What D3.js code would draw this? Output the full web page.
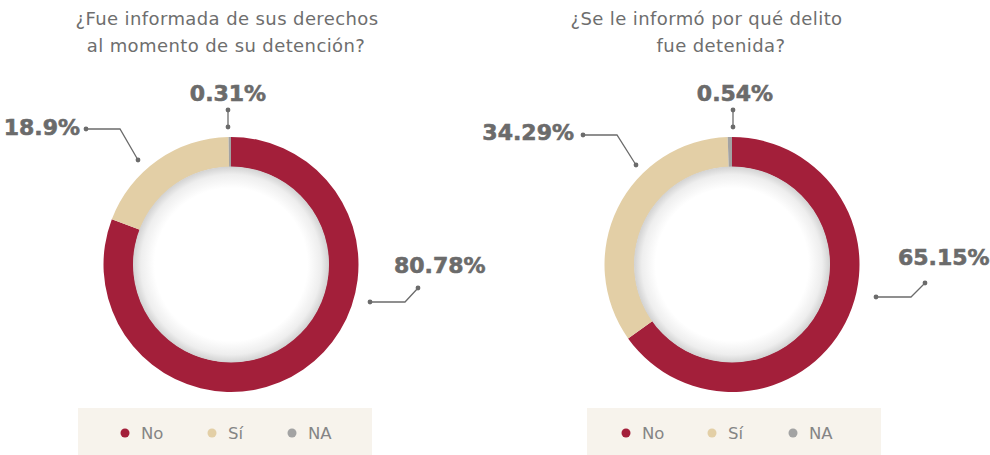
<!DOCTYPE html>
<html>
<head>
<meta charset="utf-8">
<script src="https://cdn.jsdelivr.net/npm/d3@7"></script>
<style>
  html, body { margin: 0; padding: 0; background: #ffffff; }
  svg { display: block; }
</style>
</head>
<body>
<svg id="chart" width="990" height="455"></svg>
<script>
// ---------- data ----------
const categories = ["No", "Sí", "NA"];
const colors = ["#a31f3a", "#e3cfa6", "#a3a3a3"];
const titleLeft = ["¿Fue informada de sus derechos", "al momento de su detención?"];
const titleRight = ["¿Se le informó por qué delito", "fue detenida?"];
const valuesLeft = [80.78, 18.9, 0.31];
const valuesRight = [65.15, 34.29, 0.54];
const labelsLeft = ["80.78%", "18.9%", "0.31%"];
const labelsRight = ["65.15%", "34.29%", "0.54%"];

// ---------- layout ----------
const svg = d3.select("#chart");
const outerR = 127.5, innerR = 97.5;
const textGrey = "#6b6b6b";

const defs = svg.append("defs");
const grad = defs.append("radialGradient").attr("id", "innerShade")
  .attr("cx", "50%").attr("cy", "50%").attr("r", "50%");
grad.append("stop").attr("offset", "0%").attr("stop-color", "#ffffff");
grad.append("stop").attr("offset", "78%").attr("stop-color", "#ffffff");
grad.append("stop").attr("offset", "92%").attr("stop-color", "#eeeeee");
grad.append("stop").attr("offset", "100%").attr("stop-color", "#d2d2d2");

const charts = [
  {
    cx: 231, cy: 264.5, values: valuesLeft, labels: labelsLeft, title: titleLeft,
    titleX: [227, 226],
    legendBox: [78, 408, 294],
    legendX: [125, 212, 292],
    // leader polylines & label anchors, relative to the donut centre
    leaders: [
      { pts: [[139, 37.5], [174, 37.5], [187, 23.5]], tx: 163, ty: 8.5, anchor: "start" },
      { pts: [[-145, -135.5], [-111, -135.5], [-93, -104.5]], tx: -151, ty: -129.5, anchor: "end" },
      { pts: [[-3, -154.5], [-3, -137.5]], tx: -3, ty: -163.5, anchor: "middle" }
    ]
  },
  {
    cx: 732, cy: 264.5, values: valuesRight, labels: labelsRight, title: titleRight,
    titleX: [706.5, 721],
    legendBox: [587, 408, 294],
    legendX: [626, 712, 793],
    leaders: [
      { pts: [[144, 32.5], [179, 32.5], [193, 18.5]], tx: 166, ty: 0.5, anchor: "start" },
      { pts: [[-149, -129.5], [-115, -129.5], [-96, -99.5]], tx: -158, ty: -124.5, anchor: "end" },
      { pts: [[1, -154.5], [1, -137.5]], tx: 3, ty: -164, anchor: "middle" }
    ]
  }
];

const pie = d3.pie().sort(null).value(d => d);
const arc = d3.arc().innerRadius(innerR).outerRadius(outerR);
const color = d3.scaleOrdinal().domain(categories).range(colors);

charts.forEach(c => {
  // title
  const t = svg.append("g");
  c.title.forEach((line, i) => {
    t.append("text")
      .attr("x", c.titleX[i]).attr("y", 25 + i * 27)
      .attr("text-anchor", "middle")
      .attr("font-family", "'DejaVu Sans', sans-serif")
      .attr("font-size", 18)
      .attr("letter-spacing", 0.4)
      .attr("fill", "#6e6e6e")
      .text(line);
  });

  // donut
  const g = svg.append("g").attr("transform", `translate(${c.cx},${c.cy})`);
  g.selectAll("path.slice")
    .data(pie(c.values))
    .join("path")
    .attr("class", "slice")
    .attr("d", arc)
    .attr("fill", (d, i) => color(categories[i]));

  g.append("circle").attr("r", innerR + 0.5).attr("fill", "url(#innerShade)");

  // leaders and labels
  c.leaders.forEach((L, i) => {
    const line = d3.line();
    g.append("path")
      .attr("d", line(L.pts))
      .attr("fill", "none")
      .attr("stroke", "#6b6b6b")
      .attr("stroke-width", 1.3);
    [L.pts[0], L.pts[L.pts.length - 1]].forEach(p => {
      g.append("circle").attr("cx", p[0]).attr("cy", p[1]).attr("r", 2.4).attr("fill", "#6b6b6b");
    });
    g.append("text")
      .attr("x", L.tx).attr("y", L.ty)
      .attr("text-anchor", L.anchor)
      .attr("font-family", "'DejaVu Sans', sans-serif")
      .attr("font-weight", "bold")
      .attr("font-size", 22)
      .attr("fill", textGrey)
      .attr("stroke", textGrey)
      .attr("stroke-width", 0.6)
      .text(c.labels[i]);
  });

  // legend
  const [lx, ly, lw] = c.legendBox;
  svg.append("rect").attr("x", lx).attr("y", ly).attr("width", lw).attr("height", 60)
    .attr("fill", "#f7f3ec");
  categories.forEach((cat, i) => {
    svg.append("circle").attr("cx", c.legendX[i]).attr("cy", 433).attr("r", 4.5)
      .attr("fill", color(cat));
    svg.append("text")
      .attr("x", c.legendX[i] + 16).attr("y", 439)
      .attr("font-family", "'DejaVu Sans', sans-serif")
      .attr("font-size", 16.5)
      .attr("fill", "#858585")
      .text(cat);
  });
});
</script>
</body>
</html>
